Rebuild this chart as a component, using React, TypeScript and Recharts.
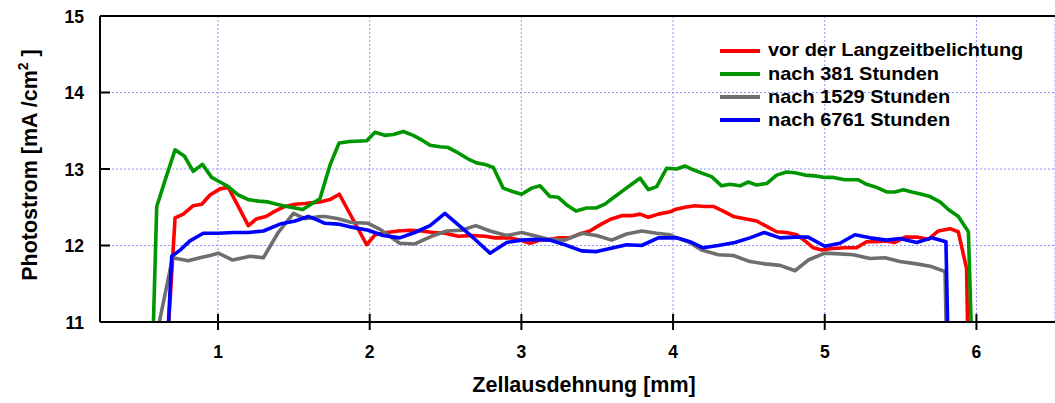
import {
  LineChart,
  Line,
  XAxis,
  YAxis,
  CartesianGrid,
  ReferenceLine,
  Legend,
  Label,
} from "recharts";

const FONT = '"Liberation Sans", Arial, Helvetica, sans-serif';

const xTicks = [1, 2, 3, 4, 5, 6];
const yTicks = [11, 12, 13, 14, 15];

const seriesNames = [
  "vor der Langzeitbelichtung",
  "nach 381 Stunden",
  "nach 1529 Stunden",
  "nach 6761 Stunden",
];

// [x in mm, photocurrent in mA/cm2]
const redPoints: [number, number][] = [
  [0.66, 10.5], [0.717, 12.36], [0.771, 12.41], [0.837, 12.52], [0.893, 12.54],
  [0.947, 12.66], [1.013, 12.74], [1.068, 12.76], [1.2, 12.26], [1.255, 12.35],
  [1.316, 12.38], [1.376, 12.45], [1.442, 12.51], [1.508, 12.54], [1.574, 12.55],
  [1.672, 12.57], [1.738, 12.6], [1.8, 12.67], [1.98, 12.01], [2.035, 12.14],
  [2.112, 12.17], [2.188, 12.19], [2.266, 12.2], [2.343, 12.19], [2.419, 12.17],
  [2.496, 12.16], [2.584, 12.12], [2.672, 12.13], [2.76, 12.12], [2.826, 12.1],
  [2.925, 12.1], [2.991, 12.07], [3.057, 12.03], [3.123, 12.07], [3.188, 12.08],
  [3.254, 12.1], [3.32, 12.1], [3.386, 12.15], [3.452, 12.19], [3.518, 12.27],
  [3.584, 12.34], [3.661, 12.39], [3.727, 12.39], [3.782, 12.41], [3.837, 12.37],
  [3.903, 12.41], [3.98, 12.44], [4.012, 12.47], [4.078, 12.5], [4.144, 12.52],
  [4.21, 12.51], [4.265, 12.51], [4.331, 12.45], [4.397, 12.38], [4.474, 12.35],
  [4.551, 12.32], [4.617, 12.25], [4.683, 12.18], [4.749, 12.17], [4.815, 12.14],
  [4.87, 12.06], [4.925, 11.97], [4.98, 11.94], [5.046, 11.96], [5.133, 11.97],
  [5.21, 11.97], [5.276, 12.05], [5.342, 12.05], [5.397, 12.06], [5.463, 12.04],
  [5.529, 12.11], [5.606, 12.11], [5.683, 12.08], [5.749, 12.19], [5.825, 12.22],
  [5.88, 12.18], [5.935, 11.7], [5.95, 10.0],
];

const greenPoints: [number, number][] = [
  [0.56, 10.0], [0.596, 12.51], [0.662, 12.92], [0.717, 13.25], [0.778, 13.17],
  [0.837, 12.97], [0.897, 13.06], [0.958, 12.89], [1.013, 12.83], [1.068, 12.77],
  [1.134, 12.66], [1.2, 12.6], [1.266, 12.58], [1.33, 12.57], [1.387, 12.54],
  [1.453, 12.51], [1.508, 12.49], [1.558, 12.47], [1.672, 12.61], [1.738, 13.05],
  [1.798, 13.34], [1.87, 13.36], [1.98, 13.37], [2.035, 13.48], [2.099, 13.44],
  [2.156, 13.45], [2.222, 13.49], [2.287, 13.44], [2.343, 13.38], [2.398, 13.31],
  [2.463, 13.29], [2.518, 13.28], [2.584, 13.21], [2.65, 13.13], [2.705, 13.08],
  [2.76, 13.06], [2.815, 13.02], [2.88, 12.75], [2.936, 12.71], [3.002, 12.67],
  [3.068, 12.75], [3.123, 12.78], [3.188, 12.64], [3.243, 12.63], [3.299, 12.53],
  [3.36, 12.45], [3.43, 12.49], [3.492, 12.49], [3.551, 12.54], [3.617, 12.64],
  [3.672, 12.72], [3.727, 12.8], [3.782, 12.88], [3.837, 12.73], [3.892, 12.77],
  [3.958, 13.01], [4.024, 13.0], [4.078, 13.04], [4.133, 12.99], [4.199, 12.94],
  [4.254, 12.9], [4.32, 12.78], [4.375, 12.8], [4.441, 12.78], [4.496, 12.83],
  [4.551, 12.79], [4.617, 12.81], [4.683, 12.92], [4.749, 12.96], [4.804, 12.95],
  [4.87, 12.92], [4.936, 12.91], [5.0, 12.89], [5.057, 12.89], [5.133, 12.86],
  [5.22, 12.86], [5.276, 12.8], [5.342, 12.76], [5.408, 12.7], [5.463, 12.7],
  [5.518, 12.73], [5.573, 12.7], [5.639, 12.67], [5.694, 12.64], [5.76, 12.57],
  [5.815, 12.47], [5.881, 12.38], [5.947, 12.18], [5.98, 10.0],
];

const grayPoints: [number, number][] = [
  [0.6, 10.87], [0.7, 11.84], [0.804, 11.8], [0.881, 11.84], [0.947, 11.87],
  [1.002, 11.9], [1.097, 11.81], [1.211, 11.86], [1.299, 11.84], [1.397, 12.17],
  [1.497, 12.42], [1.574, 12.35], [1.672, 12.38], [1.705, 12.38], [1.793, 12.35],
  [1.881, 12.3], [1.99, 12.29], [2.077, 12.2], [2.198, 12.03], [2.297, 12.02],
  [2.407, 12.12], [2.508, 12.19], [2.606, 12.2], [2.699, 12.26], [2.793, 12.19],
  [2.903, 12.13], [3.002, 12.17], [3.101, 12.12], [3.188, 12.08], [3.287, 12.07],
  [3.397, 12.16], [3.496, 12.13], [3.595, 12.07], [3.694, 12.15], [3.793, 12.19],
  [3.892, 12.16], [3.98, 12.14], [4.024, 12.1], [4.1, 12.05], [4.188, 11.94],
  [4.298, 11.88], [4.397, 11.87], [4.507, 11.79], [4.606, 11.76], [4.705, 11.74],
  [4.804, 11.67], [4.891, 11.81], [5.0, 11.9], [5.1, 11.89], [5.188, 11.88],
  [5.298, 11.83], [5.397, 11.84], [5.496, 11.79], [5.606, 11.76], [5.694, 11.73],
  [5.793, 11.66], [5.81, 10.0],
];

const bluePoints: [number, number][] = [
  [0.67, 10.85], [0.695, 11.86], [0.75, 11.94], [0.815, 12.06], [0.903, 12.16],
  [1.002, 12.16], [1.101, 12.17], [1.2, 12.17], [1.299, 12.19], [1.409, 12.28],
  [1.508, 12.32], [1.595, 12.38], [1.672, 12.32], [1.705, 12.29], [1.793, 12.28],
  [1.881, 12.24], [1.99, 12.2], [2.089, 12.13], [2.198, 12.1], [2.297, 12.17],
  [2.398, 12.26], [2.496, 12.42], [2.65, 12.16], [2.793, 11.9], [2.903, 12.04],
  [3.002, 12.07], [3.101, 12.08], [3.188, 12.07], [3.287, 12.01], [3.397, 11.93],
  [3.496, 11.92], [3.606, 11.97], [3.694, 12.01], [3.793, 12.0], [3.903, 12.1],
  [4.024, 12.1], [4.111, 12.05], [4.199, 11.97], [4.298, 12.0], [4.408, 12.04],
  [4.507, 12.1], [4.601, 12.17], [4.705, 12.1], [4.804, 12.11], [4.891, 12.11],
  [5.0, 11.99], [5.1, 12.03], [5.199, 12.14], [5.298, 12.1], [5.408, 12.07],
  [5.496, 12.09], [5.606, 12.04], [5.705, 12.1], [5.799, 12.05], [5.82, 10.0],
];

const toRows = (pts: [number, number][]) => pts.map(([x, y]) => ({ x, y }));

const series = [
  { name: seriesNames[0], color: "#ff0000", data: toRows(redPoints) },
  { name: seriesNames[1], color: "#009600", data: toRows(greenPoints) },
  { name: seriesNames[2], color: "#6e6e6e", data: toRows(grayPoints) },
  { name: seriesNames[3], color: "#0000ff", data: toRows(bluePoints) },
];

const PLOT_LEFT = 100;
const PLOT_BOTTOM = 322;

function XTick(props: any) {
  const { x, payload } = props;
  return (
    <g>
      <line x1={x} x2={x} y1={PLOT_BOTTOM - 8} y2={PLOT_BOTTOM + 8} stroke="#000" strokeWidth={2} />
      <text
        x={x}
        y={358}
        textAnchor="middle"
        fontFamily={FONT}
        fontWeight="bold"
        fontSize={17.5}
        fill="#000"
      >
        {payload.value}
      </text>
    </g>
  );
}

function YTick(props: any) {
  const { y, payload } = props;
  return (
    <g>
      <line x1={PLOT_LEFT} x2={PLOT_LEFT + 10} y1={y} y2={y} stroke="#000" strokeWidth={2} />
      <text
        x={84}
        y={y + 6.5}
        textAnchor="end"
        fontFamily={FONT}
        fontWeight="bold"
        fontSize={17.5}
        fill="#000"
      >
        {payload.value}
      </text>
    </g>
  );
}

const renderLegend = () => (
  <div style={{ fontFamily: FONT, fontWeight: "bold", fontSize: 18.5, color: "#000" }}>
    {series.map((s) => (
      <div key={s.name} style={{ display: "flex", alignItems: "center", height: 23.2 }}>
        <div style={{ width: 40, height: 4, background: s.color, marginLeft: 2 }} />
        <span
          style={{
            marginLeft: 8,
            display: "inline-block",
            transform: "scaleX(1.08)",
            transformOrigin: "left center",
            whiteSpace: "nowrap",
            lineHeight: 1,
          }}
        >
          {s.name}
        </span>
      </div>
    ))}
  </div>
);

export default function App() {
  return (
    <div style={{ position: "absolute", left: 0, top: 0, background: "#fff" }}>
      <LineChart
        width={1055}
        height={403}
        margin={{ top: 16, right: 0, bottom: 0, left: 0 }}
        style={{ fontFamily: FONT }}
      >
        <CartesianGrid stroke="#7f7fff" strokeDasharray="2 2" strokeOpacity={0.85} />

        <XAxis
          type="number"
          dataKey="x"
          domain={[0.222, 6.518]}
          ticks={xTicks}
          allowDataOverflow
          height={81}
          axisLine={{ stroke: "#000", strokeWidth: 2 }}
          tickLine={false}
          tick={<XTick />}
        >
          <Label
            content={() => (
              <text
                x={584}
                y={392}
                textAnchor="middle"
                fontFamily={FONT}
                fontWeight="bold"
                fontSize={21.5}
                fill="#000"
              >
                Zellausdehnung [mm]
              </text>
            )}
          />
        </XAxis>

        <YAxis
          type="number"
          domain={[11, 15]}
          ticks={yTicks}
          allowDataOverflow
          width={100}
          axisLine={{ stroke: "#000", strokeWidth: 2 }}
          tickLine={false}
          tick={<YTick />}
        >
          <Label
            content={() => (
              <text
                x={37}
                y={165}
                transform="rotate(-90 37 165)"
                textAnchor="middle"
                fontFamily={FONT}
                fontWeight="bold"
                fontSize={21.5}
                fill="#000"
              >
                Photostrom [mA /cm
                <tspan dy={-9} fontSize={14}>2</tspan>
                <tspan dy={9}> ]</tspan>
              </text>
            )}
          />
        </YAxis>

        <ReferenceLine y={15} stroke="#000" strokeWidth={2} />

        <Legend
          layout="horizontal"
          verticalAlign="middle"
          align="center"
          content={renderLegend}
          wrapperStyle={{ position: "absolute", top: 39, left: 718, width: 337 }}
        />

        {series.map((s) => (
          <Line
            key={s.name}
            data={s.data}
            dataKey="y"
            name={s.name}
            type="linear"
            stroke={s.color}
            strokeWidth={3.6}
            strokeLinejoin="round"
            dot={false}
            activeDot={false}
            isAnimationActive={false}
            legendType="line"
          />
        ))}
      </LineChart>
    </div>
  );
}
